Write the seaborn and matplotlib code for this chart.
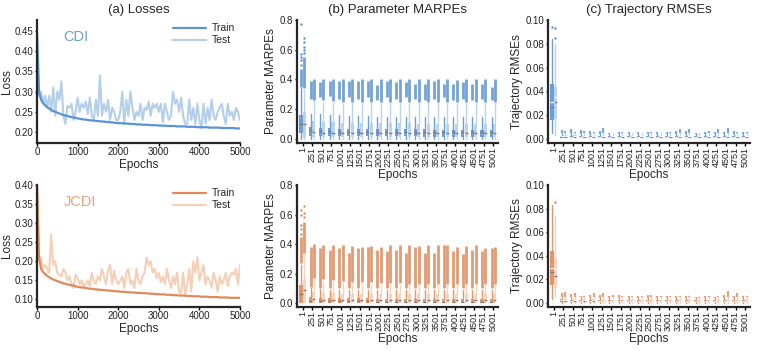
import numpy as np
import matplotlib
matplotlib.use("Agg")
import matplotlib.pyplot as plt
import seaborn as sns

# ---- loss curves ----
loss_epochs = np.arange(0, 5001, 50)

cdi_train = [0.450, 0.300, 0.280, 0.272, 0.266, 0.262, 0.258, 0.255, 0.252, 0.250, 0.248, 0.246, 0.244, 0.242, 0.241, 0.240, 0.238, 0.237, 0.236, 0.235, 0.234,
             0.233, 0.232, 0.231, 0.231, 0.230, 0.229, 0.229, 0.228, 0.228, 0.227, 0.227, 0.226, 0.226, 0.225, 0.225, 0.224, 0.224, 0.223, 0.223, 0.222,
             0.222, 0.222, 0.221, 0.221, 0.221, 0.220, 0.220, 0.220, 0.219, 0.219, 0.219, 0.218, 0.218, 0.218, 0.218, 0.217, 0.217, 0.217, 0.217, 0.216,
             0.216, 0.216, 0.216, 0.215, 0.215, 0.215, 0.215, 0.215, 0.214, 0.214, 0.214, 0.214, 0.214, 0.213, 0.213, 0.213, 0.213, 0.213, 0.212, 0.212,
             0.212, 0.212, 0.212, 0.212, 0.211, 0.211, 0.211, 0.211, 0.211, 0.211, 0.210, 0.210, 0.210, 0.210, 0.210, 0.210, 0.210, 0.209, 0.209, 0.209]
cdi_test = [0.400, 0.290, 0.300, 0.270, 0.290, 0.260, 0.290, 0.250, 0.310, 0.240, 0.300, 0.280, 0.325, 0.240, 0.220, 0.265, 0.260, 0.270, 0.230, 0.250, 0.285,
            0.250, 0.270, 0.260, 0.275, 0.245, 0.285, 0.240, 0.230, 0.280, 0.240, 0.340, 0.240, 0.270, 0.250, 0.280, 0.230, 0.260, 0.250, 0.230, 0.230,
            0.250, 0.300, 0.220, 0.280, 0.240, 0.300, 0.260, 0.230, 0.250, 0.240, 0.270, 0.230, 0.260, 0.255, 0.275, 0.240, 0.270, 0.260, 0.270, 0.250,
            0.270, 0.225, 0.270, 0.250, 0.230, 0.240, 0.300, 0.270, 0.280, 0.250, 0.285, 0.240, 0.220, 0.220, 0.280, 0.230, 0.260, 0.220, 0.270, 0.230,
            0.210, 0.270, 0.220, 0.260, 0.230, 0.280, 0.240, 0.230, 0.250, 0.260, 0.270, 0.240, 0.220, 0.270, 0.240, 0.250, 0.230, 0.260, 0.250, 0.230]

jcdi_train = [0.400, 0.210, 0.180, 0.172, 0.166, 0.162, 0.158, 0.155, 0.152, 0.150, 0.148, 0.146, 0.144, 0.142, 0.141, 0.139, 0.138, 0.137, 0.136, 0.134, 0.133,
              0.132, 0.131, 0.131, 0.130, 0.129, 0.128, 0.128, 0.127, 0.126, 0.126, 0.125, 0.125, 0.124, 0.124, 0.123, 0.123, 0.122, 0.122, 0.121, 0.121,
              0.120, 0.120, 0.120, 0.119, 0.119, 0.118, 0.118, 0.118, 0.117, 0.117, 0.117, 0.116, 0.116, 0.116, 0.115, 0.115, 0.115, 0.114, 0.114, 0.114,
              0.113, 0.113, 0.113, 0.112, 0.112, 0.112, 0.111, 0.111, 0.111, 0.110, 0.110, 0.110, 0.110, 0.109, 0.109, 0.109, 0.108, 0.108, 0.108, 0.108,
              0.107, 0.107, 0.107, 0.107, 0.106, 0.106, 0.106, 0.106, 0.106, 0.105, 0.105, 0.105, 0.105, 0.105, 0.104, 0.104, 0.104, 0.104, 0.104, 0.104]
jcdi_test = [0.400, 0.200, 0.210, 0.180, 0.190, 0.180, 0.170, 0.270, 0.190, 0.200, 0.170, 0.165, 0.160, 0.180, 0.170, 0.150, 0.160, 0.140, 0.130, 0.165, 0.155,
             0.140, 0.150, 0.135, 0.140, 0.150, 0.135, 0.170, 0.150, 0.140, 0.160, 0.150, 0.180, 0.160, 0.140, 0.175, 0.190, 0.140, 0.175, 0.150, 0.140,
             0.150, 0.160, 0.130, 0.170, 0.180, 0.140, 0.150, 0.130, 0.180, 0.150, 0.140, 0.160, 0.170, 0.210, 0.190, 0.200, 0.170, 0.180, 0.155, 0.170,
             0.145, 0.160, 0.140, 0.180, 0.150, 0.130, 0.160, 0.140, 0.170, 0.120, 0.115, 0.170, 0.110, 0.140, 0.180, 0.120, 0.200, 0.170, 0.210, 0.150,
             0.170, 0.190, 0.140, 0.160, 0.150, 0.130, 0.170, 0.150, 0.120, 0.160, 0.140, 0.150, 0.170, 0.135, 0.160, 0.170, 0.165, 0.180, 0.140, 0.190]

# ---- box statistics per checkpoint ----
box_epochs = ["1", "251", "501", "751", "1001", "1251", "1501", "1751", "2001", "2251", "2501",
              "2751", "3001", "3251", "3501", "3751", "4001", "4251", "4501", "4751", "5001"]

# (b) Parameter MARPEs, CDI
b_cdi_tr_q1 = [0.040, 0.020, 0.020, 0.019, 0.018, 0.018, 0.018, 0.018, 0.017, 0.017, 0.017, 0.017, 0.017, 0.016, 0.016, 0.016, 0.016, 0.016, 0.016, 0.015, 0.015]
b_cdi_tr_med = [0.100, 0.060, 0.055, 0.052, 0.050, 0.049, 0.048, 0.048, 0.047, 0.047, 0.046, 0.046, 0.046, 0.045, 0.045, 0.045, 0.045, 0.044, 0.044, 0.044, 0.044]
b_cdi_tr_q3 = [0.160, 0.078, 0.074, 0.071, 0.069, 0.068, 0.067, 0.066, 0.066, 0.065, 0.065, 0.064, 0.064, 0.064, 0.063, 0.063, 0.063, 0.062, 0.062, 0.062, 0.062]
b_cdi_tr_whi = [0.340, 0.170, 0.165, 0.160, 0.160, 0.155, 0.155, 0.155, 0.150, 0.150, 0.150, 0.150, 0.150, 0.150, 0.150, 0.150, 0.150, 0.150, 0.150, 0.150, 0.150]
b_cdi_tr_flo = [0.350, 0.270, 0.280, 0.290, 0.270, 0.280, 0.270, 0.280, 0.260, 0.280, 0.270, 0.280, 0.270, 0.260, 0.270, 0.280, 0.260, 0.270, 0.260, 0.270, 0.260]
b_cdi_tr_fhi = [0.470, 0.390, 0.380, 0.390, 0.390, 0.390, 0.390, 0.390, 0.360, 0.390, 0.380, 0.380, 0.370, 0.370, 0.390, 0.370, 0.370, 0.380, 0.370, 0.370, 0.350]
b_cdi_te_q1 = [0.005, 0.010, 0.010, 0.010, 0.010, 0.010, 0.010, 0.010, 0.010, 0.010, 0.010, 0.010, 0.010, 0.010, 0.010, 0.010, 0.010, 0.010, 0.010, 0.010, 0.010]
b_cdi_te_med = [0.100, 0.045, 0.042, 0.041, 0.040, 0.040, 0.040, 0.040, 0.040, 0.040, 0.040, 0.040, 0.040, 0.040, 0.040, 0.040, 0.040, 0.040, 0.040, 0.040, 0.040]
b_cdi_te_q3 = [0.180, 0.120, 0.115, 0.112, 0.110, 0.108, 0.108, 0.106, 0.106, 0.105, 0.105, 0.105, 0.104, 0.104, 0.104, 0.103, 0.103, 0.103, 0.102, 0.102, 0.102]
b_cdi_te_whi = [0.330, 0.255, 0.250, 0.245, 0.240, 0.240, 0.240, 0.240, 0.240, 0.240, 0.240, 0.240, 0.240, 0.240, 0.240, 0.240, 0.240, 0.240, 0.240, 0.240, 0.240]
b_cdi_te_flo = [0.340, 0.265, 0.260, 0.255, 0.250, 0.250, 0.250, 0.250, 0.250, 0.250, 0.250, 0.250, 0.250, 0.250, 0.250, 0.250, 0.250, 0.250, 0.250, 0.250, 0.250]
b_cdi_te_fhi = [0.550, 0.400, 0.400, 0.400, 0.400, 0.400, 0.400, 0.400, 0.400, 0.400, 0.400, 0.400, 0.400, 0.400, 0.400, 0.400, 0.395, 0.400, 0.400, 0.400, 0.400]
b_cdi_tr_dots = [0.500, 0.530, 0.550, 0.570, 0.770]
b_cdi_te_dots = [0.580, 0.600, 0.620, 0.650, 0.680]

# (b) Parameter MARPEs, JCDI
b_jcdi_tr_q1 = [0.000, 0.003, 0.003, 0.003, 0.003, 0.003, 0.003, 0.003, 0.003, 0.003, 0.003, 0.003, 0.003, 0.003, 0.003, 0.003, 0.003, 0.003, 0.003, 0.003, 0.003]
b_jcdi_tr_med = [0.060, 0.015, 0.013, 0.012, 0.012, 0.011, 0.011, 0.011, 0.010, 0.010, 0.010, 0.010, 0.010, 0.010, 0.010, 0.010, 0.010, 0.010, 0.010, 0.010, 0.010]
b_jcdi_tr_q3 = [0.125, 0.040, 0.036, 0.034, 0.033, 0.032, 0.031, 0.031, 0.030, 0.030, 0.030, 0.030, 0.030, 0.030, 0.030, 0.030, 0.030, 0.030, 0.030, 0.030, 0.030]
b_jcdi_tr_whi = [0.260, 0.100, 0.095, 0.090, 0.090, 0.090, 0.090, 0.090, 0.090, 0.090, 0.090, 0.090, 0.090, 0.090, 0.090, 0.090, 0.090, 0.090, 0.090, 0.090, 0.090]
b_jcdi_tr_flo = [0.270, 0.110, 0.100, 0.100, 0.100, 0.100, 0.100, 0.100, 0.100, 0.100, 0.100, 0.100, 0.100, 0.100, 0.100, 0.100, 0.100, 0.100, 0.100, 0.100, 0.100]
b_jcdi_tr_fhi = [0.450, 0.380, 0.370, 0.360, 0.370, 0.340, 0.370, 0.380, 0.360, 0.350, 0.360, 0.340, 0.380, 0.340, 0.340, 0.390, 0.350, 0.330, 0.360, 0.350, 0.370]
b_jcdi_te_q1 = [0.000, 0.002, 0.002, 0.002, 0.002, 0.002, 0.002, 0.002, 0.002, 0.002, 0.002, 0.002, 0.002, 0.002, 0.002, 0.002, 0.002, 0.002, 0.002, 0.002, 0.002]
b_jcdi_te_med = [0.085, 0.025, 0.022, 0.021, 0.020, 0.020, 0.020, 0.020, 0.020, 0.020, 0.020, 0.020, 0.020, 0.020, 0.020, 0.020, 0.020, 0.020, 0.020, 0.020, 0.020]
b_jcdi_te_q3 = [0.160, 0.075, 0.068, 0.065, 0.062, 0.060, 0.060, 0.060, 0.058, 0.058, 0.058, 0.058, 0.058, 0.058, 0.058, 0.058, 0.058, 0.058, 0.058, 0.058, 0.058]
b_jcdi_te_whi = [0.330, 0.160, 0.150, 0.145, 0.140, 0.135, 0.130, 0.130, 0.125, 0.125, 0.125, 0.120, 0.120, 0.120, 0.120, 0.120, 0.120, 0.120, 0.120, 0.120, 0.120]
b_jcdi_te_flo = [0.340, 0.170, 0.160, 0.155, 0.150, 0.145, 0.140, 0.140, 0.135, 0.135, 0.135, 0.130, 0.130, 0.130, 0.130, 0.130, 0.130, 0.130, 0.130, 0.130, 0.130]
b_jcdi_te_fhi = [0.550, 0.400, 0.390, 0.395, 0.390, 0.385, 0.380, 0.385, 0.380, 0.390, 0.390, 0.390, 0.385, 0.390, 0.390, 0.390, 0.380, 0.385, 0.390, 0.375, 0.380]
b_jcdi_tr_dots = [0.470, 0.500, 0.530, 0.600, 0.630]
b_jcdi_te_dots = [0.580, 0.610, 0.660]

# (c) Trajectory RMSEs, CDI
c_cdi_tr_wlo = [0.0050, 0.0003, 0.0003, 0.0003, 0.0003, 0.0003, 0.0003, 0.0003, 0.0003, 0.0003, 0.0003, 0.0003, 0.0003, 0.0003, 0.0003, 0.0003, 0.0003, 0.0003, 0.0003, 0.0003, 0.0003]
c_cdi_tr_q1 = [0.0160, 0.0010, 0.0010, 0.0010, 0.0010, 0.0010, 0.0009, 0.0009, 0.0009, 0.0009, 0.0009, 0.0009, 0.0009, 0.0009, 0.0009, 0.0009, 0.0009, 0.0009, 0.0009, 0.0009, 0.0009]
c_cdi_tr_med = [0.0270, 0.0017, 0.0016, 0.0016, 0.0016, 0.0016, 0.0015, 0.0015, 0.0015, 0.0015, 0.0015, 0.0015, 0.0015, 0.0015, 0.0015, 0.0015, 0.0015, 0.0015, 0.0015, 0.0015, 0.0015]
c_cdi_tr_mean = [0.0310, 0.0020, 0.0019, 0.0019, 0.0019, 0.0019, 0.0018, 0.0018, 0.0018, 0.0018, 0.0018, 0.0018, 0.0018, 0.0018, 0.0018, 0.0018, 0.0018, 0.0018, 0.0018, 0.0018, 0.0018]
c_cdi_tr_q3 = [0.0460, 0.0027, 0.0026, 0.0026, 0.0025, 0.0025, 0.0024, 0.0024, 0.0024, 0.0024, 0.0024, 0.0024, 0.0024, 0.0024, 0.0024, 0.0024, 0.0024, 0.0024, 0.0024, 0.0024, 0.0024]
c_cdi_tr_whi = [0.0840, 0.0045, 0.0045, 0.0044, 0.0044, 0.0043, 0.0042, 0.0042, 0.0042, 0.0042, 0.0042, 0.0042, 0.0042, 0.0042, 0.0042, 0.0042, 0.0042, 0.0042, 0.0042, 0.0042, 0.0042]
c_cdi_tr_fhi = [0.0940, 0.0075, 0.0085, 0.0075, 0.0070, 0.0065, 0.0050, 0.0060, 0.0055, 0.0055, 0.0055, 0.0060, 0.0060, 0.0065, 0.0070, 0.0050, 0.0060, 0.0055, 0.0060, 0.0065, 0.0060]
c_cdi_te_wlo = [0.0030, 0.0003, 0.0003, 0.0003, 0.0003, 0.0003, 0.0003, 0.0003, 0.0003, 0.0003, 0.0003, 0.0003, 0.0003, 0.0003, 0.0003, 0.0003, 0.0003, 0.0003, 0.0003, 0.0003, 0.0003]
c_cdi_te_q1 = [0.0170, 0.0010, 0.0010, 0.0010, 0.0010, 0.0010, 0.0010, 0.0010, 0.0010, 0.0010, 0.0010, 0.0010, 0.0010, 0.0010, 0.0010, 0.0010, 0.0010, 0.0010, 0.0010, 0.0010, 0.0010]
c_cdi_te_med = [0.0310, 0.0018, 0.0017, 0.0017, 0.0017, 0.0016, 0.0016, 0.0016, 0.0016, 0.0016, 0.0016, 0.0016, 0.0016, 0.0016, 0.0016, 0.0016, 0.0016, 0.0016, 0.0016, 0.0016, 0.0016]
c_cdi_te_mean = [0.0350, 0.0022, 0.0021, 0.0021, 0.0021, 0.0020, 0.0020, 0.0020, 0.0020, 0.0020, 0.0020, 0.0020, 0.0020, 0.0020, 0.0020, 0.0020, 0.0020, 0.0020, 0.0020, 0.0020, 0.0020]
c_cdi_te_q3 = [0.0440, 0.0030, 0.0029, 0.0028, 0.0028, 0.0027, 0.0027, 0.0027, 0.0027, 0.0027, 0.0027, 0.0027, 0.0027, 0.0027, 0.0027, 0.0027, 0.0027, 0.0027, 0.0027, 0.0027, 0.0027]
c_cdi_te_whi = [0.0800, 0.0050, 0.0048, 0.0047, 0.0046, 0.0046, 0.0045, 0.0045, 0.0045, 0.0045, 0.0045, 0.0045, 0.0045, 0.0045, 0.0045, 0.0045, 0.0045, 0.0045, 0.0045, 0.0045, 0.0045]
c_cdi_te_fhi = [0.0930, 0.0070, 0.0060, 0.0065, 0.0060, 0.0090, 0.0050, 0.0055, 0.0050, 0.0050, 0.0060, 0.0050, 0.0055, 0.0080, 0.0085, 0.0050, 0.0065, 0.0085, 0.0095, 0.0060, 0.0060]

# (c) Trajectory RMSEs, JCDI
c_jcdi_tr_wlo = [0.0030, 0.0003, 0.0003, 0.0003, 0.0003, 0.0003, 0.0003, 0.0003, 0.0003, 0.0003, 0.0003, 0.0003, 0.0003, 0.0003, 0.0003, 0.0003, 0.0003, 0.0003, 0.0003, 0.0003, 0.0003]
c_jcdi_tr_q1 = [0.0150, 0.0010, 0.0010, 0.0010, 0.0010, 0.0010, 0.0009, 0.0009, 0.0009, 0.0009, 0.0009, 0.0009, 0.0009, 0.0009, 0.0009, 0.0009, 0.0009, 0.0009, 0.0009, 0.0009, 0.0009]
c_jcdi_tr_med = [0.0260, 0.0017, 0.0016, 0.0016, 0.0016, 0.0016, 0.0015, 0.0015, 0.0015, 0.0015, 0.0015, 0.0015, 0.0015, 0.0015, 0.0015, 0.0015, 0.0015, 0.0015, 0.0015, 0.0015, 0.0015]
c_jcdi_tr_mean = [0.0300, 0.0021, 0.0020, 0.0020, 0.0020, 0.0019, 0.0019, 0.0019, 0.0019, 0.0019, 0.0019, 0.0019, 0.0019, 0.0019, 0.0019, 0.0019, 0.0019, 0.0019, 0.0019, 0.0019, 0.0019]
c_jcdi_tr_q3 = [0.0440, 0.0030, 0.0028, 0.0027, 0.0027, 0.0026, 0.0026, 0.0026, 0.0026, 0.0026, 0.0026, 0.0026, 0.0026, 0.0026, 0.0026, 0.0026, 0.0026, 0.0026, 0.0026, 0.0026, 0.0026]
c_jcdi_tr_whi = [0.0830, 0.0050, 0.0048, 0.0046, 0.0046, 0.0045, 0.0045, 0.0045, 0.0045, 0.0045, 0.0045, 0.0045, 0.0045, 0.0045, 0.0045, 0.0045, 0.0045, 0.0045, 0.0045, 0.0045, 0.0045]
c_jcdi_tr_fhi = [0.0830, 0.0080, 0.0075, 0.0060, 0.0070, 0.0065, 0.0060, 0.0065, 0.0055, 0.0055, 0.0065, 0.0055, 0.0055, 0.0060, 0.0055, 0.0050, 0.0055, 0.0050, 0.0070, 0.0060, 0.0055]
c_jcdi_te_wlo = [0.0050, 0.0003, 0.0003, 0.0003, 0.0003, 0.0003, 0.0003, 0.0003, 0.0003, 0.0003, 0.0003, 0.0003, 0.0003, 0.0003, 0.0003, 0.0003, 0.0003, 0.0003, 0.0003, 0.0003, 0.0003]
c_jcdi_te_q1 = [0.0130, 0.0010, 0.0010, 0.0010, 0.0010, 0.0010, 0.0010, 0.0010, 0.0010, 0.0010, 0.0010, 0.0010, 0.0010, 0.0010, 0.0010, 0.0010, 0.0010, 0.0010, 0.0010, 0.0010, 0.0010]
c_jcdi_te_med = [0.0230, 0.0018, 0.0017, 0.0017, 0.0017, 0.0016, 0.0016, 0.0016, 0.0016, 0.0016, 0.0016, 0.0016, 0.0016, 0.0016, 0.0016, 0.0016, 0.0016, 0.0016, 0.0016, 0.0016, 0.0016]
c_jcdi_te_mean = [0.0290, 0.0022, 0.0021, 0.0021, 0.0021, 0.0020, 0.0020, 0.0020, 0.0020, 0.0020, 0.0020, 0.0020, 0.0020, 0.0020, 0.0020, 0.0020, 0.0020, 0.0020, 0.0020, 0.0020, 0.0020]
c_jcdi_te_q3 = [0.0380, 0.0032, 0.0030, 0.0029, 0.0029, 0.0028, 0.0028, 0.0028, 0.0028, 0.0028, 0.0028, 0.0028, 0.0028, 0.0028, 0.0028, 0.0028, 0.0028, 0.0028, 0.0028, 0.0028, 0.0028]
c_jcdi_te_whi = [0.0740, 0.0052, 0.0050, 0.0048, 0.0048, 0.0047, 0.0046, 0.0046, 0.0046, 0.0046, 0.0046, 0.0046, 0.0046, 0.0046, 0.0046, 0.0046, 0.0046, 0.0046, 0.0046, 0.0046, 0.0046]
c_jcdi_te_fhi = [0.0860, 0.0090, 0.0080, 0.0060, 0.0085, 0.0085, 0.0070, 0.0060, 0.0055, 0.0055, 0.0070, 0.0060, 0.0060, 0.0060, 0.0060, 0.0040, 0.0060, 0.0060, 0.0100, 0.0080, 0.0060]

# ---- style ----
blue_dark, blue_light, blue_text = "#5b93d3", "#b4cfec", "#6f9fd6"
orange_dark, orange_light, orange_text = "#e08a5c", "#f5cfb6", "#e8a27a"

sns.set_theme(style="ticks")
plt.rcParams["font.family"] = ["Liberation Sans", "DejaVu Sans"]
plt.rcParams["axes.linewidth"] = 1.6
plt.rcParams["xtick.major.width"] = 1.0
plt.rcParams["ytick.major.width"] = 1.0
plt.rcParams["xtick.major.size"] = 1.8
plt.rcParams["ytick.major.size"] = 1.8

fig = plt.figure(figsize=(7.63, 3.51), dpi=100)
W, H = 763, 351


def add_ax(l, t, r, b):
    return fig.add_axes([l / W, 1 - b / H, (r - l) / W, (b - t) / H])


def style_ax(ax):
    sns.despine(ax=ax)
    ax.tick_params(labelsize=7, pad=0.8, colors="#222222")
    ax.tick_params(axis="both", color="black")


# ---- loss panels ----
def loss_panel(ax, train, test, dark, light, txtcol, name, ylim, yticks):
    sns.lineplot(x=loss_epochs, y=test, ax=ax, color=light, lw=1.5, label="Test")
    sns.lineplot(x=loss_epochs, y=train, ax=ax, color=dark, lw=1.6, label="Train")
    ax.set_xlim(0, 5000)
    ax.set_ylim(*ylim)
    ax.set_yticks(yticks)
    ax.set_xticks([0, 1000, 2000, 3000, 4000, 5000])
    ax.set_xlabel("Epochs", fontsize=8.5, labelpad=2)
    ax.set_ylabel("Loss", fontsize=8.5)
    ax.yaxis.set_label_coords(-0.118, 0.5)
    ax.text(0.13, 0.83, name, transform=ax.transAxes, color=txtcol, fontsize=10.5)
    h, lab = ax.get_legend_handles_labels()
    ax.legend(h[::-1], lab[::-1], frameon=False, fontsize=7.5, loc="upper right",
              bbox_to_anchor=(1.02, 1.05), handlelength=3.2, labelspacing=0.2, handletextpad=0.5)
    style_ax(ax)


ax_a1 = add_ax(37, 20, 240, 143)
loss_panel(ax_a1, cdi_train, cdi_test, blue_dark, blue_light, blue_text, "CDI",
           (0.173, 0.477), [0.20, 0.25, 0.30, 0.35, 0.40, 0.45])
ax_a1.set_title("(a) Losses", fontsize=9.5, pad=5)

ax_a2 = add_ax(37, 185, 240, 307)
loss_panel(ax_a2, jcdi_train, jcdi_test, orange_dark, orange_light, orange_text, "JCDI",
           (0.08, 0.40), [0.10, 0.15, 0.20, 0.25, 0.30, 0.35, 0.40])


# ---- box panels ----
def box_stats(q1, med, q3, wlo, whi, mean=None):
    out = []
    for i in range(len(box_epochs)):
        d = dict(q1=q1[i], med=med[i], q3=q3[i], whislo=wlo[i], whishi=whi[i], fliers=[])
        d["mean"] = mean[i] if mean is not None else med[i]
        out.append(d)
    return out


def draw_split(ax, stats, offset, face, edge, flo, fhi, dots, show_mean):
    pos = np.arange(len(box_epochs)) + offset
    ax.bxp(stats, positions=pos, widths=0.32, patch_artist=True, showfliers=False,
           showmeans=show_mean, meanline=True, showcaps=False,
           boxprops=dict(facecolor=face, edgecolor="none", alpha=0.9),
           whiskerprops=dict(color=face, lw=1.0, alpha=0.9),
           medianprops=dict(color="#7a7a7a", lw=0.9),
           meanprops=dict(color="white", lw=0.9, ls="-"))
    if flo is not None:
        # dense runs of outliers in the MARPE panels
        ax.vlines(pos, flo, fhi, color=edge, lw=2.0, alpha=0.85)
    else:
        # RMSE panels: short outlier runs above the whisker, checkpoint 1 has single dots
        ax.vlines(pos[1:], [s["whishi"] for s in stats[1:]], fhi[1:], color=edge, lw=1.6, alpha=0.8)
    if dots:
        ax.scatter([pos[0]] * len(dots), dots, s=3, color=edge, lw=0, zorder=3)


def box_panel(ax, tr, te, dark, light, ylabel, ylim, yticks, yfmt, show_mean):
    draw_split(ax, te[0], 0.18, light, dark, te[1], te[2], te[3], show_mean)
    draw_split(ax, tr[0], -0.18, dark, dark, tr[1], tr[2], tr[3], show_mean)
    ax.set_xlim(-0.6, len(box_epochs) - 0.5)
    ax.set_ylim(*ylim)
    ax.set_yticks(yticks)
    ax.set_yticklabels([yfmt.format(v) for v in yticks])
    ax.set_xticks(np.arange(len(box_epochs)))
    ax.set_xticklabels(box_epochs, rotation=90)
    ax.set_xlabel("Epochs", fontsize=8.5, labelpad=2)
    ax.set_ylabel(ylabel, fontsize=8.5, labelpad=2)
    style_ax(ax)
    ax.tick_params(axis="x", labelsize=6.5)


ax_b1 = add_ax(297, 20, 498, 143)
box_panel(ax_b1,
          (box_stats(b_cdi_tr_q1, b_cdi_tr_med, b_cdi_tr_q3, [0.0] * 21, b_cdi_tr_whi), b_cdi_tr_flo, b_cdi_tr_fhi, b_cdi_tr_dots),
          (box_stats(b_cdi_te_q1, b_cdi_te_med, b_cdi_te_q3, [0.0] * 21, b_cdi_te_whi), b_cdi_te_flo, b_cdi_te_fhi, b_cdi_te_dots),
          blue_dark, blue_light, "Parameter MARPEs", (-0.027, 0.8), [0.0, 0.2, 0.4, 0.6, 0.8], "{:.1f}", False)
ax_b1.set_title("(b) Parameter MARPEs", fontsize=9.5, pad=5)

ax_b2 = add_ax(297, 185, 498, 307)
box_panel(ax_b2,
          (box_stats(b_jcdi_tr_q1, b_jcdi_tr_med, b_jcdi_tr_q3, [0.0] * 21, b_jcdi_tr_whi), b_jcdi_tr_flo, b_jcdi_tr_fhi, b_jcdi_tr_dots),
          (box_stats(b_jcdi_te_q1, b_jcdi_te_med, b_jcdi_te_q3, [0.0] * 21, b_jcdi_te_whi), b_jcdi_te_flo, b_jcdi_te_fhi, b_jcdi_te_dots),
          orange_dark, orange_light, "Parameter MARPEs", (-0.027, 0.8), [0.0, 0.2, 0.4, 0.6, 0.8], "{:.1f}", False)

ax_c1 = add_ax(548, 20, 750, 143)
box_panel(ax_c1,
          (box_stats(c_cdi_tr_q1, c_cdi_tr_med, c_cdi_tr_q3, c_cdi_tr_wlo, c_cdi_tr_whi, c_cdi_tr_mean), None, c_cdi_tr_fhi, [0.094]),
          (box_stats(c_cdi_te_q1, c_cdi_te_med, c_cdi_te_q3, c_cdi_te_wlo, c_cdi_te_whi, c_cdi_te_mean), None, c_cdi_te_fhi, [0.085, 0.093]),
          blue_dark, blue_light, "Trajectory RMSEs", (-0.0035, 0.10), [0.0, 0.02, 0.04, 0.06, 0.08, 0.10], "{:.2f}", True)
ax_c1.set_title("(c) Trajectory RMSEs", fontsize=9.5, pad=5)

ax_c2 = add_ax(548, 185, 750, 307)
box_panel(ax_c2,
          (box_stats(c_jcdi_tr_q1, c_jcdi_tr_med, c_jcdi_tr_q3, c_jcdi_tr_wlo, c_jcdi_tr_whi, c_jcdi_tr_mean), None, c_jcdi_tr_fhi, None),
          (box_stats(c_jcdi_te_q1, c_jcdi_te_med, c_jcdi_te_q3, c_jcdi_te_wlo, c_jcdi_te_whi, c_jcdi_te_mean), None, c_jcdi_te_fhi, [0.086]),
          orange_dark, orange_light, "Trajectory RMSEs", (-0.0035, 0.10), [0.0, 0.02, 0.04, 0.06, 0.08, 0.10], "{:.2f}", True)

fig.savefig("out.png", dpi=100)
